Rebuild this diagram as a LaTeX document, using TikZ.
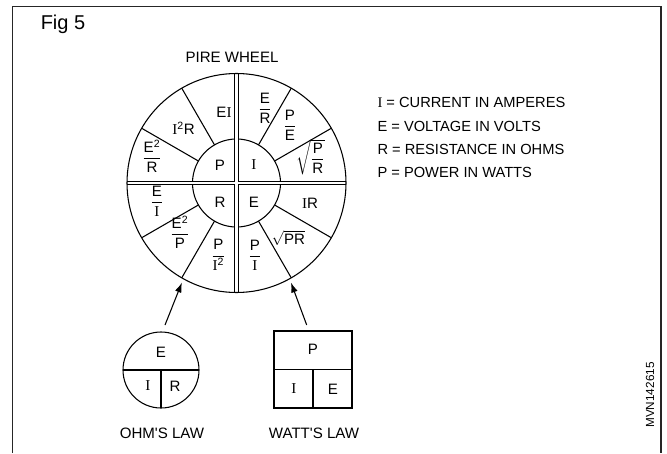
\documentclass[tikz,border=0pt]{standalone}
\usepackage{fontspec}
\usepackage{amsmath}
\setmainfont{Liberation Sans}
\newfontfamily\serifI{Liberation Serif}
\usetikzlibrary{arrows.meta}
\newcommand{\Icur}{{\serifI I}}
\newcommand{\fr}[2]{$\dfrac{\text{#1}}{\text{#2}}$}
\tikzset{
    ring/.style={circle, draw, outer sep=0pt, inner sep=0pt},
    cell/.style={font=\fontsize{11.3}{13}\selectfont, inner sep=1pt},
    legend/.style={anchor=west, font=\fontsize{11}{13}\selectfont, inner sep=0pt},
    caption/.style={font=\fontsize{11.3}{13}\selectfont},
    pointer/.style={-{Latex[length=7.5pt, width=5pt]}, shorten >=3pt}
}
\begin{document}
\begin{tikzpicture}[x=0.75pt, y=-0.75pt, line width=0.8pt]
            \useasboundingbox (0,0) rectangle (667,453);
            \draw[line width=1pt, black!85] (12.7,453) -- (12.7,6.7) -- (661,6.7) -- (661,453);
            \node[font=\fontsize{15}{17}\selectfont] (fig) at (63,24) {Fig 5};
            \node[caption] (title) at (232,57) {PIRE WHEEL};
            \node[ring, minimum size=164.25pt] (wheel) at (236.5,183) {};
            \node[ring, minimum size=66pt] (hub) at (236.5,183) {};
            \foreach \a in {30,60,120,150,210,240,300,330}
                \draw (hub.\a) -- (wheel.\a);
            \begin{scope}[shift={(236.5,183)}]
                \fill[white] (-1.7,-108) rectangle (1.7,108);
                \fill[white] (-108,-1.7) rectangle (108,1.7);
                \draw (-1.7,-109.5) -- (-1.7,-1.7) -- (-109.5,-1.7);
                \draw (1.7,-109.5) -- (1.7,-1.7) -- (109.5,-1.7);
                \draw (-1.7,109.5) -- (-1.7,1.7) -- (-109.5,1.7);
                \draw (1.7,109.5) -- (1.7,1.7) -- (109.5,1.7);
                \node[cell] (hubP) at (-16.5,-18) {P};
                \node[cell] (hubI) at (17.5,-18) {\Icur};
                \node[cell] (hubR) at (-16.5,19) {R};
                \node[cell] (hubE) at (17.5,19) {E};
                \node[cell] (pEI) at (-12.5,-71) {E\Icur};
                \node[cell] (pIIR) at (-53,-55) {\Icur\textsuperscript{2}R};
                \node[cell] (pEER) at (-84.5,-27) {\fr{E\textsuperscript{2}}{R}};
                \node[cell] (iER) at (28.5,-75) {\fr{E}{R}};
                \node[cell] (iPE) at (53.5,-58) {\fr{P}{E}};
                \node[cell] (iPR) at (74,-26) {$\sqrt{\dfrac{\text{P}}{\text{R}}}$};
                \node[cell] (rEI) at (-79.5,18) {\fr{E}{\Icur}};
                \node[cell] (rEEP) at (-56.5,49) {\fr{E\textsuperscript{2}}{P}};
                \node[cell] (rPII) at (-18,72) {\fr{P}{\Icur\textsuperscript{2}}};
                \node[cell] (ePI) at (18.5,72) {\fr{P}{\Icur}};
                \node[cell] (ePR) at (52,55) {$\sqrt{\text{PR}}$};
                \node[cell] (eIR) at (73.5,20) {\Icur R};
            \end{scope}
            \node[legend] (keyI) at (377,102) {\Icur{} = CURRENT IN AMPERES};
            \node[legend] (keyE) at (377,126) {E = VOLTAGE IN VOLTS};
            \node[legend] (keyR) at (377,149) {R = RESISTANCE IN OHMS};
            \node[legend] (keyP) at (377,172) {P = POWER IN WATTS};
            \node[ring, minimum size=57pt] (ohm) at (161,370) {};
            \draw (ohm.west) -- (ohm.east);
            \draw (ohm.center) -- (ohm.south);
            \node[cell] (ohmE) at (161,352) {E};
            \node[cell] (ohmI) at (148,386) {\Icur};
            \node[cell] (ohmR) at (175,386) {R};
            \node[caption] (ohmlaw) at (162,433) {OHM\textquotesingle S LAW};
            \node[draw, rectangle, minimum width=58.5pt, minimum height=57.75pt, outer sep=0pt] (watt) at (313,369.5) {};
            \draw (watt.west) -- (watt.east);
            \draw (watt.center) -- (watt.south);
            \node[cell] (wattP) at (313,349) {P};
            \node[cell] (wattI) at (294,389) {\Icur};
            \node[cell] (wattE) at (333,389) {E};
            \node[caption] (wattlaw) at (314,433) {WATT\textquotesingle S LAW};
            \coordinate (ohmtail) at (165,325);
            \coordinate (watttail) at (306.7,325);
            \draw[pointer] (ohmtail) -- (wheel.241);
            \draw[pointer] (watttail) -- (wheel.299);
            \node[rotate=90, font=\fontsize{8.8}{10}\selectfont] (code) at (650,395) {MVN142615};
        \end{tikzpicture}
\end{document}
